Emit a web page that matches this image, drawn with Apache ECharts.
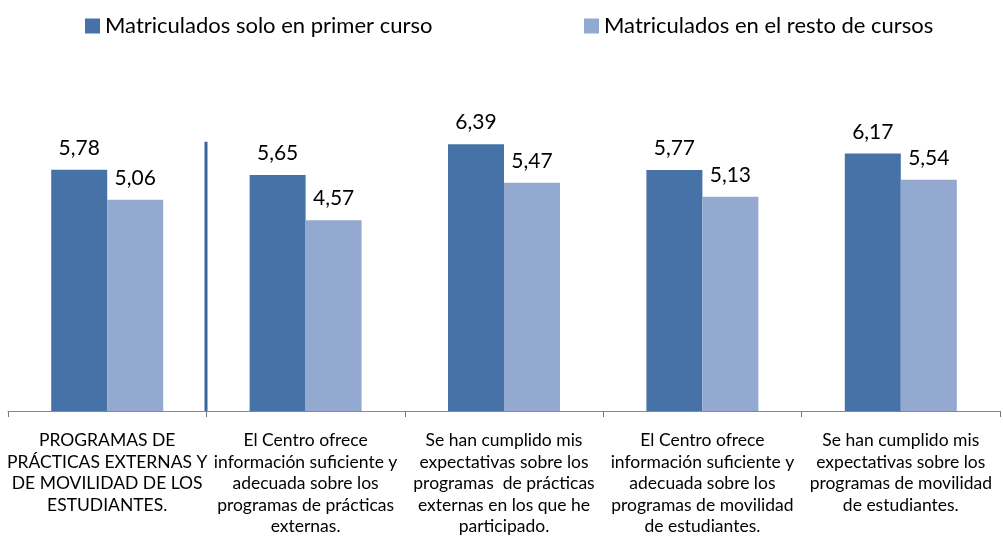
<!DOCTYPE html>
<html>
<head>
<meta charset="utf-8">
<script src="https://cdn.jsdelivr.net/npm/echarts@6/dist/echarts.min.js"></script>
<style>
  html, body { margin: 0; padding: 0; background: #fff; }
  #main { width: 1003px; height: 542px; }
</style>
</head>
<body>
<div id="main"></div>
<script>
// datos
var categorias = [
  'PROGRAMAS DE\nPRÁCTICAS EXTERNAS Y\nDE MOVILIDAD DE LOS\nESTUDIANTES.',
  'El Centro ofrece\ninformación suficiente y\nadecuada sobre los\nprogramas de prácticas\nexternas.',
  'Se han cumplido mis\nexpectativas sobre los\nprogramas  de prácticas\nexternas en los que he\nparticipado.',
  'El Centro ofrece\ninformación suficiente y\nadecuada sobre los\nprogramas de movilidad\nde estudiantes.',
  'Se han cumplido mis\nexpectativas sobre los\nprogramas de movilidad\nde estudiantes.'
];
var primerCurso = [5.78, 5.65, 6.39, 5.77, 6.17];
var restoCursos = [5.06, 4.57, 5.47, 5.13, 5.54];
var nombres = ['Matriculados solo en primer curso', 'Matriculados en el resto de cursos'];
var separadorAlto = 6.45; // altura de la línea que separa el bloque general

var fuente = 'Lato, "Open Sans", sans-serif';

var myChart = echarts.init(document.getElementById('main'));

function etiqueta(p) {
  return p.value.toFixed(2).replace('.', ',');
}

var option = {
  animation: false,
  color: ['#4672a7', '#94a9d0'],
  legend: [
    {
      data: [nombres[0]],
      left: 80, top: 10,
      itemWidth: 15, itemHeight: 15,
      icon: 'rect',
      textStyle: { fontFamily: fuente, fontSize: 22, color: '#000' }
    },
    {
      data: [nombres[1]],
      left: 579, top: 10,
      itemWidth: 15, itemHeight: 15,
      icon: 'rect',
      textStyle: { fontFamily: fuente, fontSize: 22, color: '#000' }
    }
  ],
  grid: { left: 8, right: 3, top: 77, bottom: 131 },
  xAxis: {
    type: 'category',
    data: categorias,
    axisLine: { lineStyle: { color: '#888', width: 1 } },
    axisTick: { show: true, length: 6, lineStyle: { color: '#777', width: 1 } },
    axisLabel: {
      interval: 0,
      margin: 19,
      fontFamily: fuente,
      fontSize: 17.5,
      lineHeight: 21.5,
      color: '#000',
      verticalAlign: 'top'
    }
  },
  yAxis: {
    type: 'value',
    min: 0, max: 8,
    show: false,
    splitLine: { show: false }
  },
  series: [
    {
      name: nombres[0],
      type: 'bar',
      data: primerCurso,
      barWidth: 56,
      barGap: '0%',
      label: {
        show: true, position: 'top', distance: 11,
        formatter: etiqueta,
        fontFamily: fuente, fontSize: 21, color: '#000'
      }
    },
    {
      name: nombres[1],
      type: 'bar',
      data: restoCursos,
      barWidth: 56,
      barGap: '0%',
      label: {
        show: true, position: 'top', distance: 11,
        formatter: etiqueta,
        fontFamily: fuente, fontSize: 21, color: '#000'
      }
    }
  ]
};

myChart.setOption(option);

// línea vertical entre la primera y la segunda categoría
var p0 = myChart.convertToPixel({ seriesIndex: 0 }, [0, 0]);
var p1 = myChart.convertToPixel({ seriesIndex: 0 }, [1, separadorAlto]);
var xSep = Math.round((p0[0] + p1[0]) / 2);
myChart.setOption({
  graphic: [{
    type: 'line',
    shape: { x1: xSep, y1: p0[1], x2: xSep, y2: p1[1] },
    style: { stroke: '#3b659c', lineWidth: 3 },
    z: 10
  }]
});
</script>
</body>
</html>
